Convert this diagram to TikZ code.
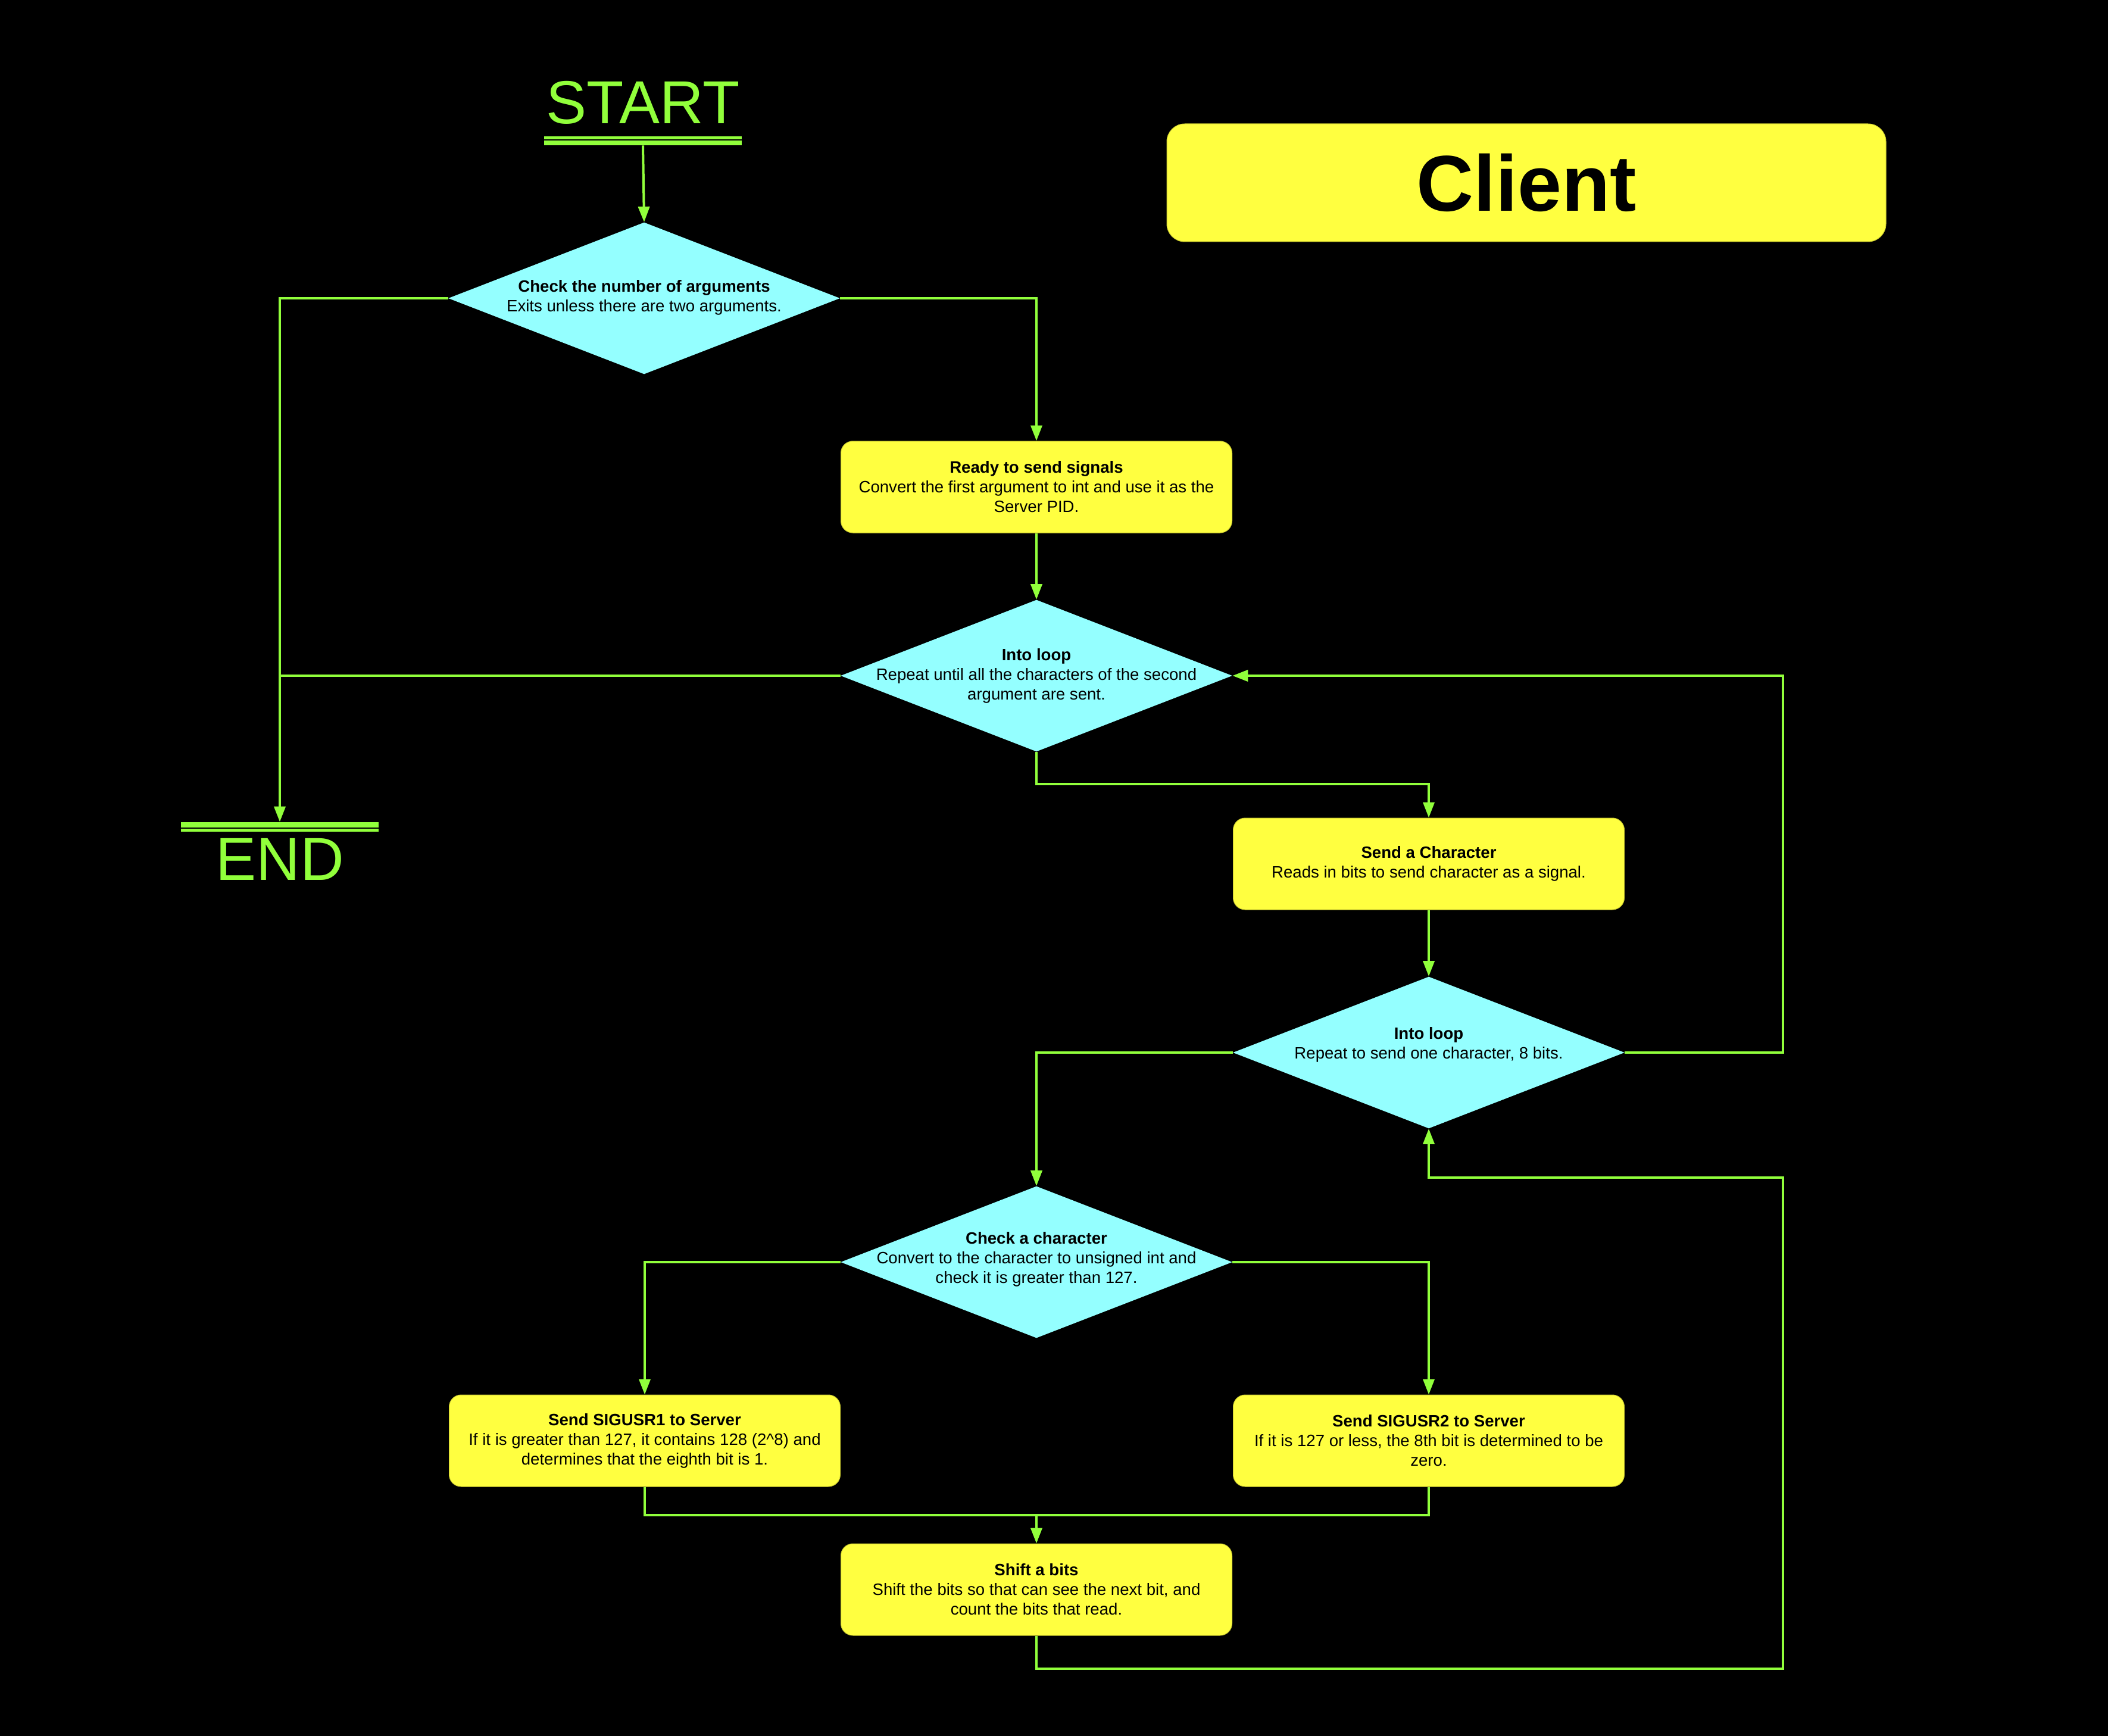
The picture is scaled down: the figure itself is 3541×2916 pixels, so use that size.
\documentclass[tikz,border=0pt]{standalone}
\usepackage{fontspec}
\setmainfont{Liberation Sans}
\usetikzlibrary{shapes.geometric,arrows.meta}
\definecolor{grn}{HTML}{91FF3B}
\definecolor{cyn}{HTML}{94FFFF}
\definecolor{ylw}{HTML}{FFFF40}
\definecolor{ylwd}{HTML}{C8C830}
\newcommand{\bodyfont}{\fontsize{13.8}{16.5}\selectfont}
\newcommand{\termfont}{\fontsize{51}{60}\selectfont}
\newcommand{\titlefont}{\fontsize{66.5}{78}\selectfont\bfseries}
\tikzset{
 conn/.style={draw=grn, line width=2pt},
 arr/.style={conn, -{Triangle[length=13pt,width=9.5pt]}},
 dia/.style={diamond, fill=cyn, minimum width=329pt, minimum height=127.5pt, inner sep=0pt},
 box/.style={rectangle, rounded corners=10pt, fill=ylw, draw=ylwd, line width=0.5pt, minimum width=328.5pt, minimum height=77pt, inner sep=0pt, align=center, font=\bodyfont, text=black},
 txt/.style={align=center, font=\bodyfont, text=black, inner sep=0pt},
 bar/.style={rectangle, fill=grn, inner sep=0pt, minimum width=166pt},
 term/.style={text=grn, font=\termfont, inner sep=0pt, anchor=base},
}
\begin{document}
\begin{tikzpicture}[x=0.5pt,y=-0.5pt]
\useasboundingbox (0,0) rectangle (3541,2916);
\fill[black] (0,0) rectangle (3541,2916);

% title
\node[rectangle, rounded corners=15pt, fill=ylw, draw=ylwd, line width=0.5pt, minimum width=604pt, minimum height=99pt, inner sep=0pt, font=\titlefont, text=black] (client) at (2564,307) {Client};

% start / end
\node[term] (starttxt) at (1080,208) {START};
\node[bar, minimum height=2.5pt] (startthin) at (1080,231.5) {};
\node[bar, minimum height=4pt] (startbar) at (1080,240) {};

\node[bar, minimum height=4.5pt] (endbar) at (470,1385.5) {};
\node[bar, minimum height=2.5pt] (endthin) at (470,1394.5) {};
\node[term] (endtxt) at (470,1478) {END};

% decisions
\node[dia, label={[txt, yshift=0.5pt]center:{\textbf{Check the number of arguments}\\Exits unless there are two arguments.}}] (d1) at (1082,501) {};
\node[dia, label={[txt]center:{\textbf{Into loop}\\Repeat until all the characters of the second\\argument are sent.}}] (d2) at (1741,1135) {};
\node[dia, label={[txt, yshift=6.5pt]center:{\textbf{Into loop}\\Repeat to send one character, 8 bits.}}] (d3) at (2400,1768) {};
\node[dia, label={[txt, yshift=2.5pt]center:{\textbf{Check a character}\\Convert to the character to unsigned int and\\check it is greater than 127.}}] (d4) at (1741,2120) {};

% process boxes
\node[box] (ready) at (1741,818) {\textbf{Ready to send signals}\\Convert the first argument to int and use it as the\\Server PID.};
\node[box] (sendchar) at (2400,1451) {\textbf{Send a Character}\\Reads in bits to send character as a signal.};
\node[box] (sig1) at (1083,2420) {\textbf{Send SIGUSR1 to Server}\\If it is greater than 127, it contains 128 (2\^{}8) and\\determines that the eighth bit is 1.};
\node[box] (sig2) at (2400,2420) {\textbf{Send SIGUSR2 to Server}\\If it is 127 or less, the 8th bit is determined to be\\zero.};
\node[box] (shift) at (1741,2670) {\textbf{Shift a bits}\\Shift the bits so that can see the next bit, and\\count the bits that read.};

% helper coordinates
\coordinate (c1) at (1741,1317);
\coordinate (c2) at (2995,1768);
\coordinate (join) at (1741,2545);
\coordinate (c3) at (1741,2803);
\coordinate (c4) at (2995,2803);
\coordinate (c5) at (2995,1978);
\coordinate (c6) at (2400,1978);

% connectors
\draw[arr] (startbar.south) -- (d1.north);
\draw[arr] (d1.west) -| (endbar.north);
\draw[arr] (d1.east) -| (ready.north);
\draw[arr] (ready.south) -- (d2.north);
\draw[conn] (d2.west) -- (d2.west -| endbar.north);
\draw[arr] (d2.south) -- (c1) -| (sendchar.north);
\draw[arr] (sendchar.south) -- (d3.north);
\draw[arr] (d3.east) -- (c2) |- (d2.east);
\draw[arr] (d3.west) -| (d4.north);
\draw[arr] (d4.west) -| (sig1.north);
\draw[arr] (d4.east) -| (sig2.north);
\draw[conn] (sig1.south) |- (join);
\draw[conn] (sig2.south) |- (join);
\draw[arr] (join) -- (shift.north);
\draw[arr] (shift.south) -- (c3) -- (c4) -- (c5) -- (c6) -- (d3.south);
\end{tikzpicture}
\end{document}
